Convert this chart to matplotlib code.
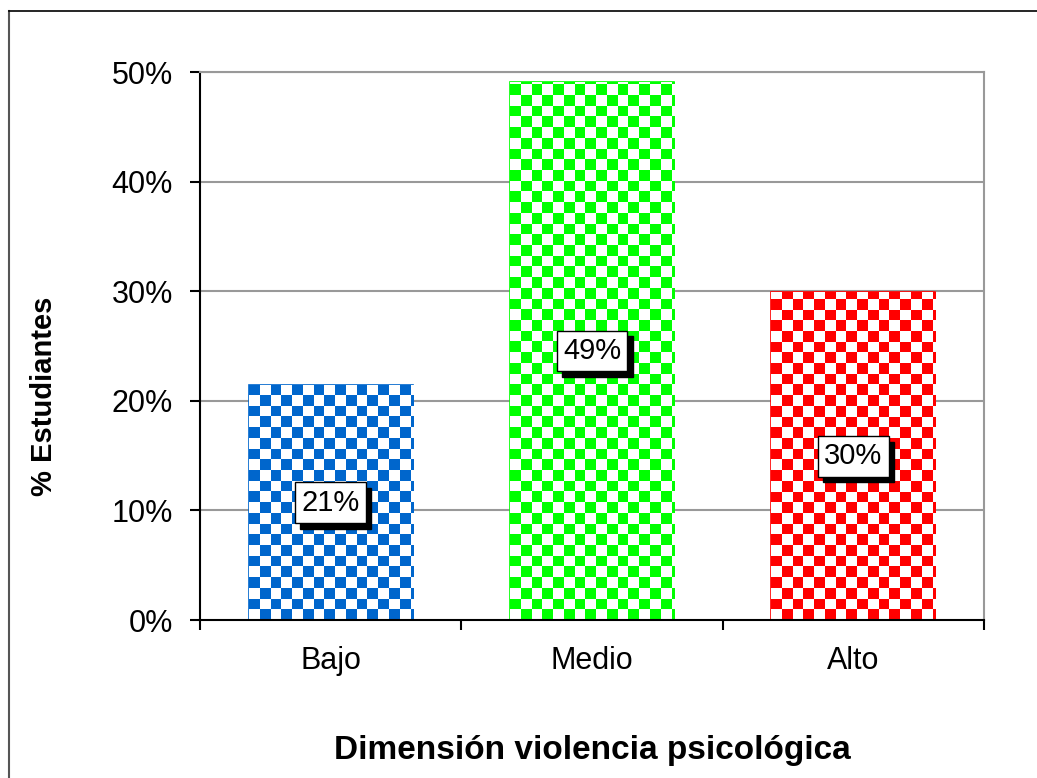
import matplotlib.pyplot as plt
from matplotlib.lines import Line2D
from matplotlib.patches import Rectangle
import numpy as np

plt.rcParams['font.family'] = ['Liberation Sans', 'DejaVu Sans']

categories = ["Bajo", "Medio", "Alto"]
values = [21.4, 49.1, 29.9]
labels = ["21%", "49%", "30%"]
colors = ["#0066CC", "#00FF00", "#FF0000"]

fig = plt.figure(figsize=(10.37, 7.78), dpi=100)
ax = fig.add_axes([200 / 1037, 158 / 778, 784 / 1037, 548 / 778])

# outer chart border (only left and top are visible)
fig.add_artist(Line2D([9 / 1037, 9 / 1037], [0, 1 - 11 / 778], color="#555555", lw=1.5))
fig.add_artist(Line2D([9 / 1037, 1], [1 - 11 / 778, 1 - 11 / 778], color="black", lw=1.2))

for y in range(10, 51, 10):
    ax.axhline(y, color="#999999", lw=1.5, zorder=0)

width = 0.628
cx = 0.041   # checker cell in x (data units)
cy = 0.976   # checker cell in y (percent)
x = np.arange(len(categories))
for i, (v, c) in enumerate(zip(values, colors)):
    x0 = x[i] - width / 2
    rect = Rectangle((x0, 0), width, v, facecolor="white", edgecolor=c,
                     lw=1.2, zorder=2)
    ax.add_patch(rect)
    nx = int(np.ceil(width / cx))
    ny = int(np.ceil(v / cy))
    checker = (np.indices((ny, nx)).sum(axis=0) % 2).astype(float)
    cmap = plt.matplotlib.colors.ListedColormap(["white", c])
    im = ax.imshow(checker, cmap=cmap, origin="lower", interpolation="nearest",
                   extent=(x0, x0 + nx * cx, 0, ny * cy), aspect="auto", zorder=2)
    im.set_clip_path(rect)
    # label with shadow box
    ax.annotate(labels[i], (x[i], v / 2), xytext=(3.8, -4.2), textcoords="offset points",
                ha="center", va="center", fontsize=21, color="black", zorder=4,
                bbox=dict(boxstyle="square,pad=0.22", fc="black", ec="black", lw=1))
    ax.annotate(labels[i], (x[i], v / 2), ha="center", va="center", fontsize=21,
                color="black", zorder=5,
                bbox=dict(boxstyle="square,pad=0.22", fc="white", ec="black", lw=1))

ax.set_aspect("auto")
ax.set_xlim(-0.5, 2.5)
ax.set_ylim(0, 50)

ax.set_yticks(range(0, 51, 10))
ax.set_yticklabels([f"{t}%" for t in range(0, 51, 10)], fontsize=22)
ax.set_xticks(x)
ax.set_xticklabels(categories, fontsize=22)
ax.set_xticks(np.arange(-0.5, 3, 1), minor=True)
ax.tick_params(axis="x", which="major", length=0, pad=19)
ax.tick_params(axis="x", which="minor", length=7.5, width=1.5, direction="out")
ax.tick_params(axis="y", length=7.5, width=1.5, direction="out", pad=12)

for s in ["left", "bottom"]:
    ax.spines[s].set_color("black")
    ax.spines[s].set_linewidth(1.5)
for s in ["top", "right"]:
    ax.spines[s].set_color("#999999")
    ax.spines[s].set_linewidth(1.5)

fig.text(44 / 1037, 1 - 396 / 778, "% Estudiantes", rotation=90, ha="center",
         va="center", fontsize=21, fontweight="bold")
fig.text(592 / 1037, 1 - 751 / 778, "Dimensión violencia psicológica", ha="center",
         va="center", fontsize=24, fontweight="bold")

fig.savefig("out.png", dpi=100)
